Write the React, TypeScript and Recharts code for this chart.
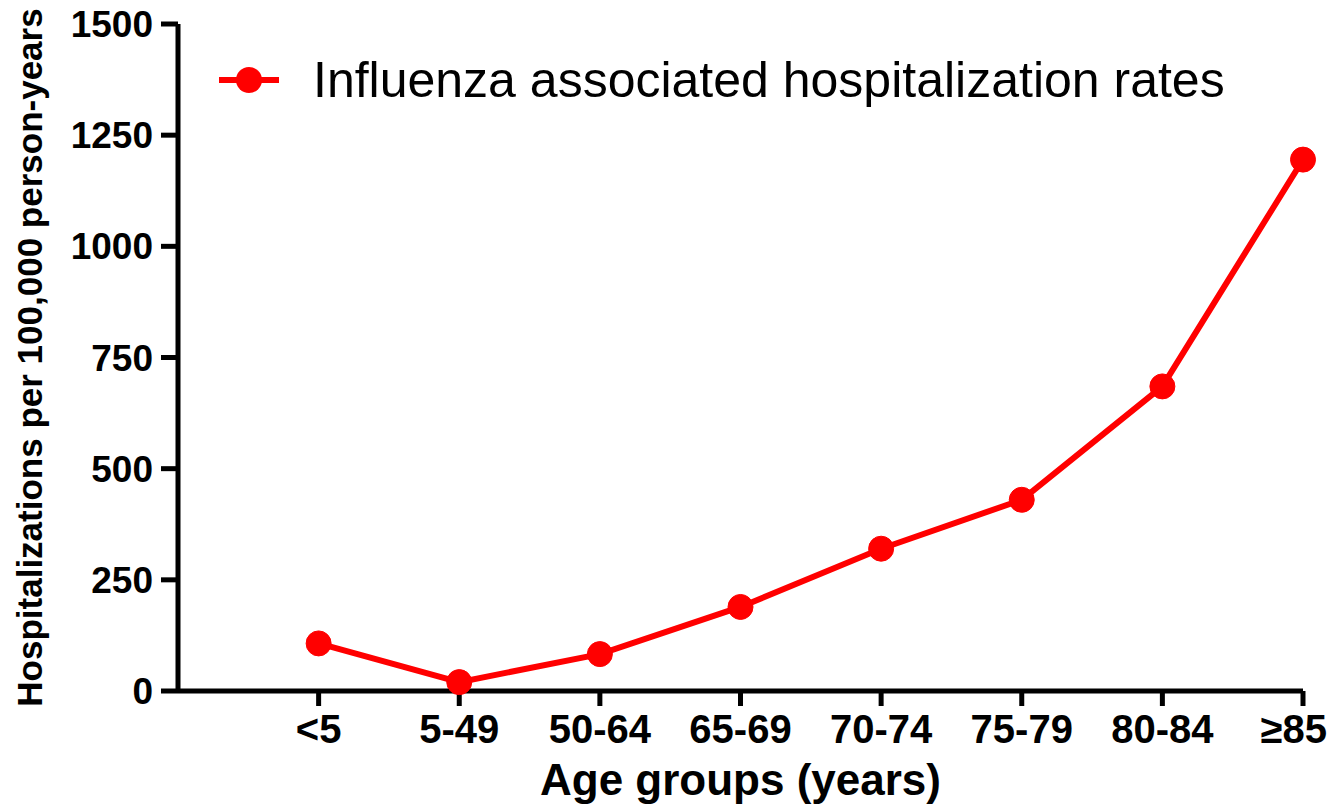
import { Legend, Line, LineChart, XAxis, YAxis } from "recharts";

const ageGroups = ["<5", "5-49", "50-64", "65-69", "70-74", "75-79", "80-84", "≥85"];
const hospitalizationRates = [107, 20, 83, 189, 320, 430, 685, 1195];
const groupPositions = [1, 2, 3, 4, 5, 6, 7, 8];
const yTicks = [0, 250, 500, 750, 1000, 1250, 1500];

const FONT = "'Liberation Sans', Arial, Helvetica, sans-serif";
const RED = "#ff0000";

const data = ageGroups.map((group, i) => ({
    pos: groupPositions[i],
    group,
    rate: hospitalizationRates[i],
}));

const renderLegend = ({ payload }: any) => {
    const item = payload && payload[0];
    const color = item?.color || RED;
    return (
        <svg width={1100} height={60}>
            <line x1={0} y1={30} x2={60} y2={30} stroke={color} strokeWidth={6} />
            <circle cx={30} cy={30} r={13} fill={color} />
            <text x={94} y={47} fontFamily={FONT} fontSize={50} fill="#000">
                {item?.value ?? "Influenza associated hospitalization rates"}
            </text>
        </svg>
    );
};

// last label is pulled in so it stays inside the picture, like the original
const AgeTick = ({ x, y, payload, index }: any) => {
    const last = index === ageGroups.length - 1;
    return (
        <text
            x={last ? x + 24 : x}
            y={y}
            dy="0.71em"
            textAnchor={last ? "end" : "middle"}
            fill="#000"
            fontSize={40}
            fontWeight="bold"
            fontFamily={FONT}
        >
            {ageGroups[payload.value - 1]}
        </text>
    );
};

const App = () => {
    return (
        <div style={{ position: "absolute", left: 0, top: 0, background: "#fff" }}>
            <LineChart
                width={1332}
                height={804}
                data={data}
                margin={{ top: 24, right: 29, bottom: 0, left: 10 }}
            >
                <XAxis
                    dataKey="pos"
                    type="number"
                    domain={[0, 8]}
                    ticks={groupPositions}
                    height={113}
                    tickSize={15}
                    tickMargin={9}
                    axisLine={{ stroke: "#000", strokeWidth: 5 }}
                    tickLine={{ stroke: "#000", strokeWidth: 5 }}
                    tick={<AgeTick />}
                    label={{
                        value: "Age groups (years)",
                        position: "insideBottom",
                        offset: 9,
                        style: { fill: "#000", fontSize: 44, fontWeight: "bold", fontFamily: FONT },
                    }}
                />
                <YAxis
                    type="number"
                    domain={[0, 1500]}
                    ticks={yTicks}
                    width={168}
                    tickSize={17}
                    tickMargin={8}
                    axisLine={{ stroke: "#000", strokeWidth: 5 }}
                    tickLine={{ stroke: "#000", strokeWidth: 5 }}
                    tick={{ fill: "#000", fontSize: 37, fontWeight: "bold", fontFamily: FONT }}
                    label={{
                        value: "Hospitalizations per 100,000 person-years",
                        angle: -90,
                        position: "insideLeft",
                        offset: 20,
                        style: { textAnchor: "middle", fill: "#000", fontSize: 35, fontWeight: "bold", fontFamily: FONT },
                    }}
                />
                <Legend
                    layout="horizontal"
                    verticalAlign="middle"
                    align="center"
                    content={renderLegend}
                    wrapperStyle={{ top: 50, left: 219, width: 1100, height: 60 }}
                />
                <Line
                    type="linear"
                    dataKey="rate"
                    name="Influenza associated hospitalization rates"
                    stroke={RED}
                    strokeWidth={6}
                    dot={{ r: 12.5, fill: RED, stroke: RED, strokeWidth: 1 }}
                    activeDot={false}
                    isAnimationActive={false}
                />
            </LineChart>
        </div>
    );
};

export default App;
